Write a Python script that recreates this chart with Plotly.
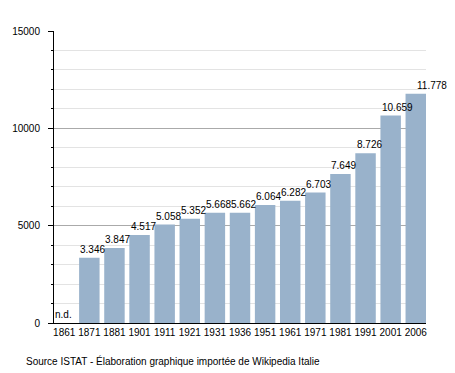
import plotly.graph_objects as go

years = ["1861", "1871", "1881", "1901", "1911", "1921", "1931", "1936",
         "1951", "1961", "1971", "1981", "1991", "2001", "2006"]
population = [None, 3346, 3847, 4517, 5058, 5352, 5668, 5662,
              6064, 6282, 6703, 7649, 8726, 10659, 11778]
value_labels = ["n.d.", "3.346", "3.847", "4.517", "5.058", "5.352", "5.668", "5.662",
                "6.064", "6.282", "6.703", "7.649", "8.726", "10.659", "11.778"]
source_text = "Source ISTAT - Élaboration graphique importée de Wikipedia Italie"

FONT = "Liberation Sans, Arial, sans-serif"
BAR_GAP = 0.185
W, H = 455, 373
ML, MR, MT, MB = 50, 29, 31, 50

fig = go.Figure()
fig.add_trace(go.Bar(
    x=years,
    y=population,
    marker=dict(color="#99b2cb", line=dict(width=0)),
    hoverinfo="x+y",
))

label_nudge = {"2006": 10}
annotations = []
for i, (yr, val, lab) in enumerate(zip(years, population, value_labels)):
    annotations.append(dict(
        x=i, y=(val if val is not None else 0),
        xref="x", yref="y",
        text=lab, showarrow=False,
        xanchor="left", yanchor="bottom",
        xshift=-11 + label_nudge.get(yr, 0), yshift=1,
        font=dict(family=FONT, size=10, color="#000000"),
    ))

plot_w, plot_h = W - ML - MR, H - MT - MB
annotations.append(dict(
    x=(20 - ML) / plot_w, y=(H - MB - 361) / plot_h,
    xref="paper", yref="paper",
    text=source_text, showarrow=False, xanchor="left", yanchor="middle",
    font=dict(family=FONT, size=10, color="#000000"),
))

fig.update_layout(
    width=W, height=H,
    margin=dict(l=ML, r=MR, t=MT, b=MB, pad=0),
    paper_bgcolor="white", plot_bgcolor="white",
    bargap=BAR_GAP,
    showlegend=False,
    font=dict(family=FONT, size=10, color="#000000"),
    xaxis=dict(
        type="category",
        range=[-0.5 + BAR_GAP / 2, len(years) - 0.5 - BAR_GAP / 2],
        showline=True, linecolor="#000000", linewidth=1,
        ticks="", showgrid=False, zeroline=False,
        tickfont=dict(family=FONT, size=10, color="#000000"),
    ),
    yaxis=dict(
        range=[0, 15000],
        tickvals=[0, 5000, 10000, 15000],
        tickformat="d",
        ticks="outside", ticklen=5, tickcolor="#000000", tickwidth=1,
        showline=True, linecolor="#000000", linewidth=1,
        showgrid=True, gridcolor="#aaaaaa", gridwidth=1,
        zeroline=False,
        ticklabelstandoff=6,
        tickfont=dict(family=FONT, size=10, color="#000000"),
        minor=dict(dtick=1000, ticks="outside", ticklen=2, tickcolor="#000000",
                   showgrid=True, gridcolor="#e3e3e3", gridwidth=1),
    ),
    annotations=annotations,
)

fig.write_html(
    "out.html",
    config={"displayModeBar": False},
    post_script="document.body.style.margin='0';document.body.style.padding='0';",
)
